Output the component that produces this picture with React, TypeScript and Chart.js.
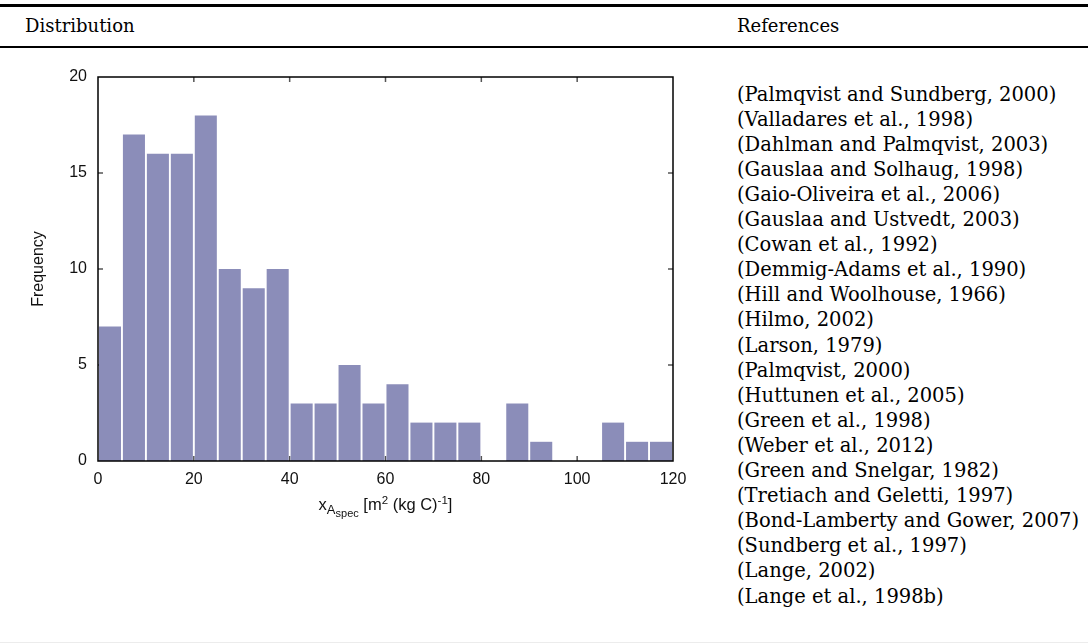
import React, { useEffect, useRef } from "react";
import { Chart, registerables } from "chart.js";

Chart.register(...registerables);

// ---- data ----
const binCenters = [2.5, 7.5, 12.5, 17.5, 22.5, 27.5, 32.5, 37.5, 42.5, 47.5, 52.5, 57.5, 62.5, 67.5, 72.5, 77.5, 82.5, 87.5, 92.5, 97.5, 102.5, 107.5, 112.5, 117.5];
const frequencies = [7, 17, 16, 16, 18, 10, 9, 10, 3, 3, 5, 3, 4, 2, 2, 2, 0, 3, 1, 0, 0, 2, 1, 1];
const xRange = [0, 120];
const yRange = [0, 20];
const xStep = 20;
const yStep = 5;
const yTitle = "Frequency";
const headerLeft = "Distribution";
const headerRight = "References";
const references = [
  "(Palmqvist and Sundberg, 2000)",
  "(Valladares et al., 1998)",
  "(Dahlman and Palmqvist, 2003)",
  "(Gauslaa and Solhaug, 1998)",
  "(Gaio-Oliveira et al., 2006)",
  "(Gauslaa and Ustvedt, 2003)",
  "(Cowan et al., 1992)",
  "(Demmig-Adams et al., 1990)",
  "(Hill and Woolhouse, 1966)",
  "(Hilmo, 2002)",
  "(Larson, 1979)",
  "(Palmqvist, 2000)",
  "(Huttunen et al., 2005)",
  "(Green et al., 1998)",
  "(Weber et al., 2012)",
  "(Green and Snelgar, 1982)",
  "(Tretiach and Geletti, 1997)",
  "(Bond-Lamberty and Gower, 2007)",
  "(Sundberg et al., 1997)",
  "(Lange, 2002)",
  "(Lange et al., 1998b)",
];

const SANS = "'Liberation Sans', Arial, sans-serif";
const SERIF = "'DejaVu Serif', serif";
const BAR_COLOR = "#8b8db9";

const CANVAS_TOP = 60;
const CANVAS_W = 700;
const CANVAS_H = 480;
const PAD_TOP = 17;
const AREA_H = 384;

const axisPlugin = {
  id: "axisDecor",
  beforeDatasetsDraw(chart: any) {
    const { ctx, chartArea: a, scales } = chart;
    ctx.save();
    ctx.strokeStyle = "#555";
    ctx.lineWidth = 1.5;
    const L = 5;
    for (const t of scales.x.ticks) {
      const v = t.value;
      if (v <= xRange[0] || v >= xRange[1]) continue;
      const px = scales.x.getPixelForValue(v);
      ctx.beginPath();
      ctx.moveTo(px, a.bottom);
      ctx.lineTo(px, a.bottom - L);
      ctx.moveTo(px, a.top);
      ctx.lineTo(px, a.top + L);
      ctx.stroke();
    }
    for (const t of scales.y.ticks) {
      const v = t.value;
      if (v <= yRange[0] || v >= yRange[1]) continue;
      const py = scales.y.getPixelForValue(v);
      ctx.beginPath();
      ctx.moveTo(a.left, py);
      ctx.lineTo(a.left + L, py);
      ctx.moveTo(a.right, py);
      ctx.lineTo(a.right - L, py);
      ctx.stroke();
    }
    ctx.restore();
  },
  afterDatasetsDraw(chart: any) {
    const { ctx, chartArea: a } = chart;
    ctx.save();
    ctx.strokeStyle = "#000";
    ctx.lineWidth = 1.5;
    ctx.strokeRect(a.left, a.top, a.right - a.left, a.bottom - a.top);
    ctx.restore();
  },
  afterDraw(chart: any) {
    const { ctx, chartArea: a } = chart;
    ctx.save();
    ctx.fillStyle = "#111";
    ctx.font = `16px ${SANS}`;
    ctx.textAlign = "center";
    ctx.textBaseline = "alphabetic";
    ctx.translate(43, (a.top + a.bottom) / 2);
    ctx.rotate(-Math.PI / 2);
    ctx.fillText(yTitle, 0, 0);
    ctx.restore();

    const parts: { t: string; size: number; dy: number }[] = [
      { t: "x", size: 16.5, dy: 0 },
      { t: "A", size: 13, dy: 4 },
      { t: "spec", size: 11, dy: 7 },
      { t: " [m", size: 16.5, dy: 0 },
      { t: "2", size: 11.5, dy: -6 },
      { t: " (kg C)", size: 16.5, dy: 0 },
      { t: "-1", size: 11.5, dy: -6 },
      { t: "]", size: 16.5, dy: 0 },
    ];
    ctx.save();
    ctx.fillStyle = "#111";
    ctx.textAlign = "left";
    ctx.textBaseline = "alphabetic";
    let total = 0;
    const widths = parts.map((p) => {
      ctx.font = `${p.size}px ${SANS}`;
      const w = ctx.measureText(p.t).width;
      total += w;
      return w;
    });
    let x = (a.left + a.right) / 2 - total / 2;
    const base = 510 - CANVAS_TOP;
    parts.forEach((p, i) => {
      ctx.font = `${p.size}px ${SANS}`;
      ctx.fillText(p.t, x, base + p.dy);
      x += widths[i];
    });
    ctx.restore();
  },
};

function HistChart() {
  const ref = useRef<HTMLCanvasElement | null>(null);
  useEffect(() => {
    if (!ref.current) return;
    const chart = new Chart(ref.current, {
      type: "bar",
      data: {
        datasets: [
          {
            data: binCenters.map((c, i) => ({ x: c, y: frequencies[i] })),
            backgroundColor: BAR_COLOR,
            borderWidth: 0,
            barPercentage: 0.92,
            categoryPercentage: 1,
          },
        ],
      },
      options: {
        responsive: false,
        animation: false,
        events: [],
        layout: { padding: { top: PAD_TOP, right: 27, left: 0, bottom: 0 } },
        plugins: { legend: { display: false }, tooltip: { enabled: false }, title: { display: false } },
        scales: {
          x: {
            type: "linear",
            min: xRange[0],
            max: xRange[1],
            offset: false,
            grid: { display: false, drawTicks: false },
            border: { display: false },
            ticks: { stepSize: xStep, padding: 9, color: "#111", font: { family: SANS, size: 16 }, maxRotation: 0 },
            afterFit: (s: any) => {
              s.height = CANVAS_H - PAD_TOP - AREA_H;
              s.paddingLeft = 0;
              s.paddingRight = 0;
            },
          },
          y: {
            min: yRange[0],
            max: yRange[1],
            grid: { display: false, drawTicks: false },
            border: { display: false },
            ticks: { stepSize: yStep, padding: 11, color: "#111", font: { family: SANS, size: 16 } },
            afterFit: (s: any) => {
              s.width = 98;
              s.paddingTop = 0;
              s.paddingBottom = 0;
            },
          },
        },
      },
      plugins: [axisPlugin],
    } as any);
    return () => chart.destroy();
  }, []);
  return <canvas ref={ref} width={CANVAS_W} height={CANVAS_H} style={{ position: "absolute", left: 0, top: CANVAS_TOP, width: CANVAS_W, height: CANVAS_H }} />;
}

const serifStyle = (size: number): React.CSSProperties => ({
  position: "absolute",
  fontFamily: SERIF,
  fontSize: size,
  lineHeight: `${size}px`,
  color: "#000",
  whiteSpace: "nowrap",
});

// baseline offset for DejaVu Serif with line-height equal to font size
const baseOff = (size: number) => size * (0.5 + (0.928 - 0.236) / 2);

const HEAD_SIZE = 18;
const LIST_SIZE = 19.5;

export default function App() {
  return (
    <div style={{ position: "absolute", left: 0, top: 0, width: 1088, height: 643, overflow: "hidden", background: "#fff" }}>
      <div style={{ position: "absolute", left: 0, top: 4, width: 1088, height: 2.5, background: "#000" }} />
      <div style={{ position: "absolute", left: 0, top: 46, width: 1088, height: 1.5, background: "#000" }} />
      <div style={{ position: "absolute", left: 0, top: 641.5, width: 1088, height: 1.5, background: "#ececec" }} />
      <div style={{ ...serifStyle(HEAD_SIZE), left: 25, top: 32 - baseOff(HEAD_SIZE) }}>{headerLeft}</div>
      <div style={{ ...serifStyle(HEAD_SIZE), left: 737, top: 32 - baseOff(HEAD_SIZE) }}>{headerRight}</div>
      {references.map((r, i) => (
        <div key={i} style={{ ...serifStyle(LIST_SIZE), left: 737, top: 101 + i * 25.1 - baseOff(LIST_SIZE) }}>
          {r}
        </div>
      ))}
      <HistChart />
    </div>
  );
}
